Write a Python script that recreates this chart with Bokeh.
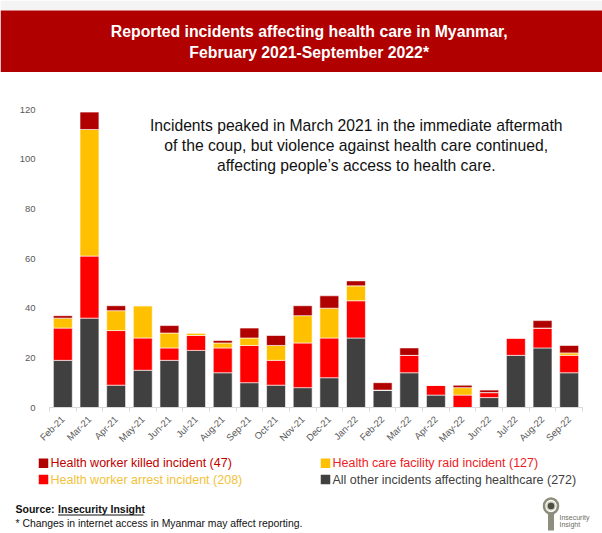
from bokeh.plotting import figure
from bokeh.models import Range1d, FixedTicker, ColumnDataSource
from bokeh.embed import file_html
from bokeh.resources import INLINE
from bokeh.core.properties import value
from math import pi

# ---------------- data ----------------
months = ["Feb-21", "Mar-21", "Apr-21", "May-21", "Jun-21", "Jul-21", "Aug-21",
          "Sep-21", "Oct-21", "Nov-21", "Dec-21", "Jan-22", "Feb-22", "Mar-22",
          "Apr-22", "May-22", "Jun-22", "Jul-22", "Aug-22", "Sep-22"]
other  = [19, 36, 9, 15, 19, 23, 14, 10, 9, 8, 12, 28, 7, 14, 5, 0, 4, 21, 24, 14]
arrest = [13, 25, 22, 13, 5, 6, 10, 15, 10, 18, 16, 15, 0, 7, 4, 5, 2, 7, 8, 7]
raid   = [4, 51, 8, 13, 6, 1, 2, 3, 6, 11, 12, 6, 0, 0, 0, 3, 0, 0, 0, 1]
killed = [1, 7, 2, 0, 3, 0, 1, 4, 4, 4, 5, 2, 3, 3, 0, 1, 1, 0, 3, 3]
y_ticks = [0, 20, 40, 60, 80, 100, 120]

title_lines = ["Reported incidents affecting health care in Myanmar,",
               "February 2021-September 2022*"]
note_lines = ["Incidents peaked in March 2021 in the immediate aftermath",
              "of the coup, but violence against health care continued,",
              "affecting people\u2019s access to health care."]
legend_labels = ["Health worker killed incident (47)",
                 "Health worker arrest incident (208)",
                 "Health care facility raid incident (127)",
                 "All other incidents affecting healthcare (272)"]
source_label = "Source: "
source_name = "Insecurity Insight"
footnote = "* Changes in internet access in Myanmar may affect reporting."
logo_lines = ["Insecurity", "Insight"]

# ---------------- styles ----------------
C_OTHER, C_ARREST, C_RAID, C_KILLED = "#404040", "#ff0000", "#ffc000", "#b00000"
BAND = "#b00000"
FONT = "Liberation Sans"
W = 602


def deco_fig(h, y_top, y_bot):
    """Full-width decoration canvas whose data units equal page pixels."""
    f = figure(width=W, height=h, x_range=Range1d(0, W), y_range=Range1d(y_bot, y_top),
               output_backend="svg", toolbar_location=None, title=None,
               x_axis_location=None, y_axis_location=None,
               min_border_left=0, min_border_right=0, min_border_top=0,
               min_border_bottom=0)
    f.background_fill_color = "white"
    f.border_fill_color = "white"
    f.outline_line_color = None
    f.grid.visible = False
    return f


# ---------------- title band ----------------
t = deco_fig(72, 0, 72)
t.quad(left=[0], right=[W], top=[0], bottom=[10], fill_color="#f4f4f4", line_color=None)
t.quad(left=[0], right=[W], top=[10], bottom=[72], fill_color=BAND, line_color=None)
t.text(x=[308.7, 308.7], y=[30.5, 51.5], text=title_lines, text_align="center",
       text_baseline="middle", text_color="white", text_font=value(FONT),
       text_font_style="bold", text_font_size="15.8px")

# ---------------- main chart ----------------
x = [i + 0.5 for i in range(len(months))]
src = ColumnDataSource(dict(x=x, months=months, other=other, arrest=arrest,
                            raid=raid, killed=killed))

p = figure(width=W, height=378, x_range=Range1d(0, len(months)),
           y_range=Range1d(0, 127.7), output_backend="svg", toolbar_location=None,
           title=None, min_border_left=49, min_border_right=20,
           min_border_top=18, min_border_bottom=38)
p.outline_line_color = None
p.grid.visible = False

p.vbar_stack(["other", "arrest", "raid", "killed"], x="x", width=0.71,
             color=[C_OTHER, C_ARREST, C_RAID, C_KILLED], line_color="white",
             line_width=0.6, source=src)

p.yaxis.ticker = y_ticks
p.yaxis.axis_line_color = None
p.yaxis.major_tick_line_color = None
p.yaxis.major_tick_out = 0
p.yaxis.minor_tick_line_color = None
p.yaxis.major_label_standoff = 14
p.yaxis.major_label_text_font = FONT
p.yaxis.major_label_text_font_size = "9.5px"
p.yaxis.major_label_text_color = "#595959"

p.xaxis.ticker = FixedTicker(ticks=x, minor_ticks=list(range(len(months) + 1)))
p.xaxis.major_label_overrides = {xi: m for xi, m in zip(x, months)}
p.xaxis.major_label_orientation = pi / 4
p.xaxis.axis_line_color = "#d9d9d9"
p.xaxis.major_tick_line_color = None
p.xaxis.minor_tick_line_color = "#d9d9d9"
p.xaxis.minor_tick_in = 0
p.xaxis.minor_tick_out = 4
p.xaxis.major_label_standoff = 4
p.xaxis.major_label_text_font = FONT
p.xaxis.major_label_text_font_size = "9.5px"
p.xaxis.major_label_text_color = "#595959"

p.text(x=[11.51] * 3, y=[113.4, 105.4, 97.4], text=note_lines, text_align="center",
       text_baseline="middle", text_color="#111111", text_font=value(FONT),
       text_font_size="15.7px")

# ---------------- legend + footer ----------------
f = deco_fig(83, 450, 533)

sq_colors = [C_KILLED, C_ARREST, C_RAID, C_OTHER]
txt_colors = ["#c00000", "#f2c23a", "#ee1c25", "#404040"]
sq_x = [43, 43, 325, 325]
ly = [462.7, 479, 462.7, 479]
f.rect(x=sq_x, y=ly, width=9.5, height=9.5, fill_color=sq_colors, line_color=None)
f.text(x=[v + 7 for v in sq_x], y=ly, text=legend_labels, text_color=txt_colors,
       text_align="left", text_baseline="middle", text_font=value(FONT),
       text_font_size="12.5px")

f.text(x=[15], y=[508.5], text=[source_label], text_font=value(FONT),
       text_font_style="bold", text_font_size="10.5px", text_color="#111111",
       text_baseline="middle")
f.text(x=[57.5], y=[508.5], text=[source_name], text_font=value(FONT),
       text_font_style="bold", text_font_size="10.5px", text_color="#111111",
       text_baseline="middle")
f.segment(x0=[57.5], y0=[514.5], x1=[143], y1=[514.5], line_color="#111111", line_width=1)
f.text(x=[15], y=[522.5], text=[footnote], text_font=value(FONT),
       text_font_size="10.4px", text_color="#111111", text_baseline="middle")

# logo
LOGO = "#8e8e7c"
f.ellipse(x=[550.5], y=[505.5], width=14, height=15, fill_color=None,
          line_color=LOGO, line_width=2.5)
f.scatter(x=[550.5], y=[505.5], size=8, marker="circle", fill_color="#4e4e42",
          line_color="#c8c8b8", line_width=1.5)
f.quad(left=[547.5], right=[553.5], top=[512], bottom=[530], fill_color=LOGO, line_color=None)
f.text(x=[559, 559], y=[516.5, 524], text=logo_lines, text_font=value(FONT),
       text_font_size="7px", text_color="#6e6e60", text_baseline="middle")

open("out.html", "w").write(file_html([t, p, f], INLINE))
